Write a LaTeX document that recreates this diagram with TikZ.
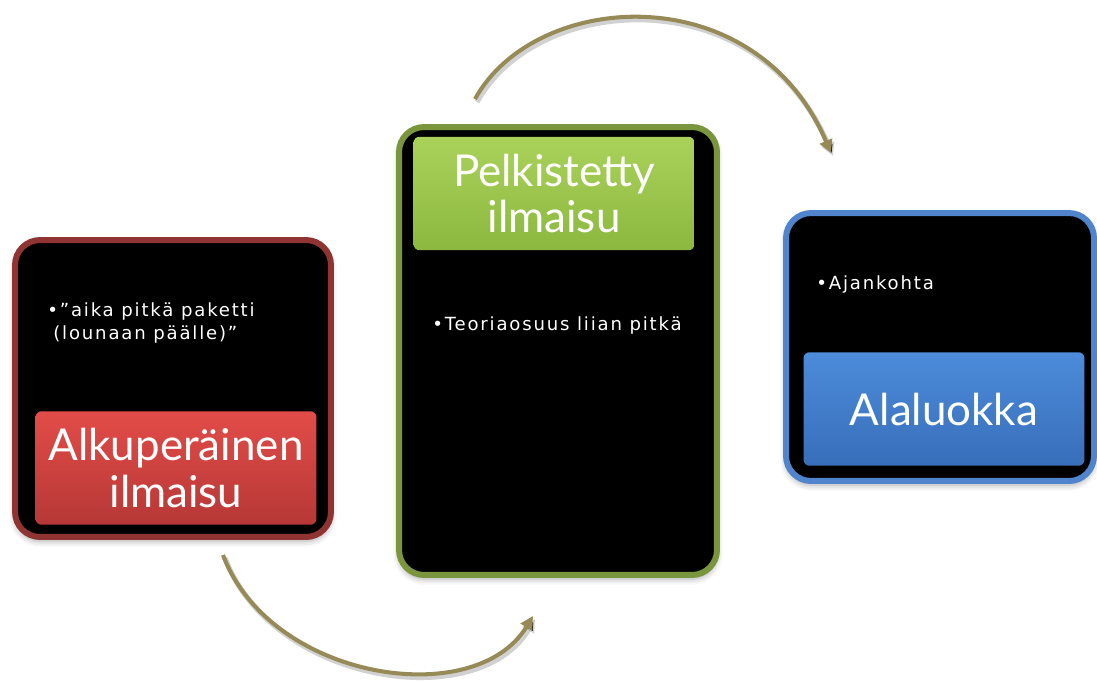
\documentclass[tikz,border=0pt]{standalone}
\usepackage{fontspec}
\setmainfont[LetterSpace=10]{DejaVu Sans}
\newfontfamily\headfont{Lato}
\usetikzlibrary{arrows.meta,shadows.blur}

\definecolor{redline}{RGB}{143,52,50}
\definecolor{redtop}{RGB}{226,76,72}
\definecolor{redbot}{RGB}{182,56,54}
\definecolor{greenline}{RGB}{122,150,60}
\definecolor{greentop}{RGB}{170,210,90}
\definecolor{greenbot}{RGB}{140,184,64}
\definecolor{blueline}{RGB}{80,132,204}
\definecolor{bluetop}{RGB}{76,140,218}
\definecolor{bluebot}{RGB}{56,110,186}
\definecolor{arcline}{RGB}{150,138,86}

\tikzset{
  panel/.style={draw=#1, line width=3.4pt, fill=black, rounded corners=0.5cm,
    minimum width=0pt, minimum height=0pt, inner sep=0pt,
    blur shadow={shadow xshift=0pt, shadow yshift=-0.08cm, shadow opacity=35, shadow blur radius=0.12cm}},
  headbox/.style 2 args={rounded corners=0.12cm, top color=#1, bottom color=#2,
    minimum width=5.62cm, minimum height=2.27cm, inner sep=0pt,
    text=white, align=center,
    font=\headfont\fontsize{25}{26.5}\selectfont,
    blur shadow={shadow xshift=0pt, shadow yshift=-0.05cm, shadow opacity=40, shadow blur radius=0.08cm}},
  bullet/.style={anchor=base west, inner sep=0pt, text=white,
    font=\fontsize{10.3}{12}\selectfont},
  flow/.style={draw=arcline, line width=2.3pt,
    -{Triangle[length=0.26cm, width=0.26cm]}},
  flowshade/.style={draw=black, draw opacity=0.18, line width=3pt,
    -{Triangle[length=0.26cm, width=0.26cm]},
    transform canvas={shift={(0.04cm,-0.06cm)}}}
}

\begin{document}
\begin{tikzpicture}[x=0.02cm, y=-0.02cm]
\useasboundingbox (0,0) rectangle (1097,682);

% outer panels
\node[panel=redline, minimum width=6.32cm, minimum height=5.94cm] (redpanel) at (173,388.5) {};
\node[panel=greenline, minimum width=6.36cm, minimum height=8.96cm] (greenpanel) at (558,351) {};
\node[panel=blueline, minimum width=6.16cm, minimum height=5.36cm] (bluepanel) at (940,347) {};

% heading boxes
\node[headbox={redtop}{redbot}] (redhead) at (176,468) {Alkuperäinen\\ilmaisu};
\node[headbox={greentop}{greenbot}] (greenhead) at (554,193.5) {Pelkistetty\\ilmaisu};
\node[headbox={bluetop}{bluebot}] (bluehead) at (944,409) {Alaluokka};

% bullet texts
\node[bullet] (redtext1) at (47,316) {•”aika pitkä paketti};
\node[bullet] (redtext2) at (53,339) {(lounaan päälle)”};
\node[bullet] (greentext) at (432,330) {•Teoriaosuus liian pitkä};
\node[bullet] (bluetext) at (816,289) {•Ajankohta};

% curved arrows between the panels
\coordinate (lowstart) at (223,555);
\coordinate (lowend) at (533,616);
\coordinate (highstart) at (475,99);
\coordinate (highend) at (831,153);
\draw[flowshade] (lowstart) .. controls (270,680) and (475,712) .. (lowend);
\draw[flowshade] (highstart) .. controls (535,-10) and (755,-25) .. (highend);
\draw[flow] (lowstart) .. controls (270,680) and (475,712) .. (lowend);
\draw[flow] (highstart) .. controls (535,-10) and (755,-25) .. (highend);
\end{tikzpicture}
\end{document}
